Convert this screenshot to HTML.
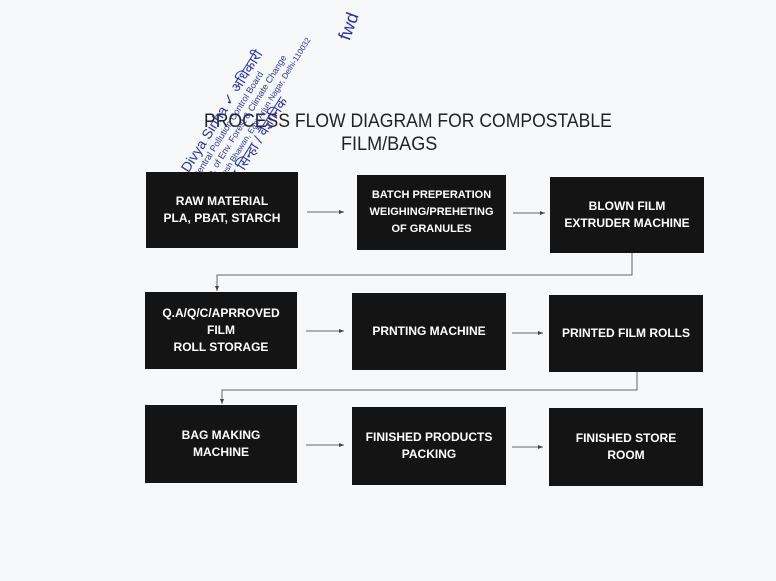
<!DOCTYPE html>
<html><head><meta charset="utf-8"><style>
body{margin:0;width:776px;height:581px;background:#f7f8fa;position:relative;overflow:hidden;font-family:"Liberation Sans",sans-serif}
.b{position:absolute;background:#141414;color:#fff;font-weight:bold;font-size:12px;display:flex;align-items:center;justify-content:center;text-align:center;line-height:17px}
.t{position:absolute;font-size:19px;color:#222;white-space:nowrap;transform-origin:0 0}
.s{position:absolute;color:#2633a0;white-space:nowrap;transform-origin:0 0}
</style></head><body>
<div class="t" style="left:204px;top:111px;transform:scaleX(0.925)">PROCESS FLOW DIAGRAM FOR COMPOSTABLE</div>
<div class="t" style="left:341px;top:134px;transform:scaleX(0.95)">FILM/BAGS</div>
<div style="position:absolute;left:180px;top:168px;transform:rotate(-58deg);transform-origin:0 0">
<div class="s" style="left:0;top:0;font-size:10px;position:relative;line-height:11px">
<span style="font-size:14px">Divya Sinha ✓ अधिकारी</span><br>
<span style="font-size:9px">Central Pollution Control Board</span><br>
<span style="font-size:9px">Min. of Env. Forest &amp; Climate Change</span><br>
<span style="font-size:8px">Parivesh Bhawan, East Arjun Nagar, Delhi-110032</span><br>
<span style="font-size:14px">दिव्या सिन्हा / वैज्ञानिक</span>
</div></div>
<div class="s" style="left:335px;top:16px;font-size:18px;transform:rotate(-70deg);transform-origin:center">fwd</div>

<div class="b" style="left:146px;top:172px;width:152px;height:76px">RAW MATERIAL<br>PLA, PBAT, STARCH</div>
<div class="b" style="left:357px;top:175px;width:149px;height:75px;font-size:11px">BATCH PREPERATION<br>WEIGHING/PREHETING<br>OF GRANULES</div>
<div class="b" style="left:550px;top:177px;width:154px;height:76px">BLOWN FILM<br>EXTRUDER MACHINE</div>
<div class="b" style="left:145px;top:292px;width:152px;height:77px">Q.A/Q/C/APRROVED<br>FILM<br>ROLL STORAGE</div>
<div class="b" style="left:352px;top:293px;width:154px;height:77px">PRNTING MACHINE</div>
<div class="b" style="left:549px;top:295px;width:154px;height:77px">PRINTED FILM ROLLS</div>
<div class="b" style="left:145px;top:405px;width:152px;height:78px">BAG MAKING<br>MACHINE</div>
<div class="b" style="left:352px;top:407px;width:154px;height:78px">FINISHED PRODUCTS<br>PACKING</div>
<div class="b" style="left:549px;top:408px;width:154px;height:78px">FINISHED STORE<br>ROOM</div>

<svg width="776" height="581" style="position:absolute;left:0;top:0" fill="none" stroke="#666" stroke-width="1">
<defs><marker id="a" markerWidth="6" markerHeight="6" refX="5" refY="3" orient="auto"><path d="M0,1 L5,3 L0,5z" fill="#444" stroke="none"/></marker></defs>
<line x1="307" y1="212" x2="344" y2="212" marker-end="url(#a)"/>
<line x1="513" y1="213" x2="545" y2="213" marker-end="url(#a)"/>
<path d="M632,253 V275 H217 V291" marker-end="url(#a)"/>
<line x1="306" y1="331" x2="344" y2="331" marker-end="url(#a)"/>
<line x1="512" y1="333" x2="543" y2="333" marker-end="url(#a)"/>
<path d="M637,372 V390 H222 V404" marker-end="url(#a)"/>
<line x1="306" y1="445" x2="344" y2="445" marker-end="url(#a)"/>
<line x1="512" y1="447" x2="543" y2="447" marker-end="url(#a)"/>
</svg>
</body></html>
